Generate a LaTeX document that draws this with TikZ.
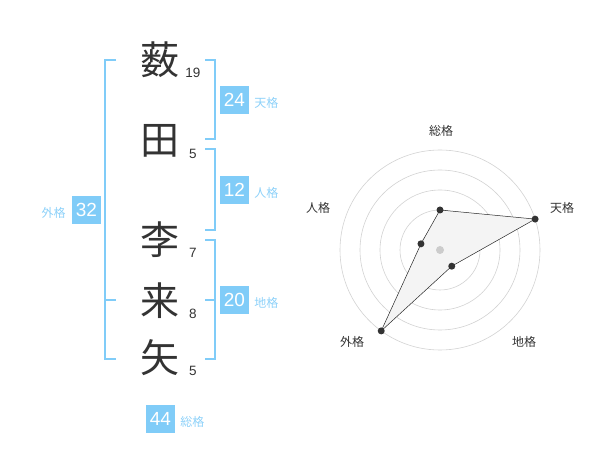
\documentclass[tikz,border=0pt]{standalone}
\usepackage{fontspec}
\setmainfont{Liberation Sans}
\newfontfamily\jpfont{Noto Sans CJK JP}
\usepackage{tikz}
\usetikzlibrary{positioning}
\definecolor{skyb}{RGB}{128,204,248}
\definecolor{inkgray}{RGB}{51,51,51}
\tikzstyle{kanji} = [font=\jpfont\fontsize{39}{39}\selectfont, text=inkgray, inner sep=0pt]
\tikzstyle{strokes} = [font=\fontsize{13.5}{13.5}\selectfont, text=inkgray, inner sep=0pt]
\tikzstyle{score} = [fill=skyb, text=white, minimum width=29pt, minimum height=28pt, inner sep=0pt, font=\fontsize{19}{19}\selectfont]
\tikzstyle{kaku} = [text=skyb!90, font=\jpfont\fontsize{12}{12}\selectfont, inner sep=0pt, yshift=-3pt]
\tikzstyle{bracket} = [draw=skyb, line width=1.8pt]
\tikzstyle{ring} = [draw=gray!35, line width=0.6pt]
\tikzstyle{web} = [fill=gray!9, draw=black!85, line width=0.5pt]
\tikzstyle{axislbl} = [text=inkgray, font=\jpfont\fontsize{12}{12}\selectfont, inner sep=0pt]
\tikzstyle{dot} = [circle, fill=inkgray, inner sep=0pt, minimum size=7pt]

\begin{document}
\begin{tikzpicture}[x=1pt, y=-1pt]
	\useasboundingbox (0,0) rectangle (600,470);

	% name and stroke counts
	\foreach \ch/\n/\y [count=\i] in {薮/19/60, 田/5/141, 李/7/240, 来/8/301, 矢/5/358}{
		\node (c\i) [kanji] at (160,\y) {\ch};
		\node (s\i) [strokes] at (193,\y+13) {\n};
	}

	% brackets
	\draw [bracket] (116,60) -- (105,60) -- (105,359) -- (116,359);
	\draw [bracket] (105,300) -- (116,300);
	\draw [bracket] (205,60) -- (215,60) -- (215,139) -- (205,139);
	\draw [bracket] (205,149) -- (215,149) -- (215,230) -- (205,230);
	\draw [bracket] (205,240) -- (215,240) -- (215,359) -- (205,359);
	\draw [bracket] (205,300) -- (215,300);

	% scores
	\node (ten) [score] at (234.5,100) {24};
	\node (tenl) [kaku, right=5pt of ten] {天格};
	\node (jin) [score] at (234.5,190) {12};
	\node (jinl) [kaku, right=5pt of jin] {人格};
	\node (chi) [score] at (234.5,300) {20};
	\node (chil) [kaku, right=5pt of chi] {地格};
	\node (gai) [score] at (86.5,210) {32};
	\node (gail) [kaku, left=6pt of gai] {外格};
	\node (sou) [score] at (160.5,419) {44};
	\node (soul) [kaku, right=5pt of sou] {総格};

	% radar chart
	\begin{scope}[shift={(440,250)}, y=1pt]
		\foreach \r in {20,40,60,80,100}
			\draw [ring] (0,0) circle (\r pt);
		\coordinate (psou) at (90:40);
		\coordinate (pten) at (18:100);
		\coordinate (pchi) at (-54:20);
		\coordinate (pgai) at (-126:100);
		\coordinate (pjin) at (162:20);
		\draw [web] (psou) -- (pten) -- (pchi) -- (pgai) -- (pjin) -- cycle;
		\fill [gray!40] (0,0) circle (4pt);
		\foreach \p in {psou,pten,pchi,pgai,pjin}
			\node [dot] at (\p) {};
		\node (asou) [axislbl] at (1,119) {総格};
		\node (aten) [axislbl] at (122,42) {天格};
		\node (achi) [axislbl] at (84,-92) {地格};
		\node (agai) [axislbl] at (-88,-92) {外格};
		\node (ajin) [axislbl] at (-122,42) {人格};
	\end{scope}
\end{tikzpicture}
\end{document}
